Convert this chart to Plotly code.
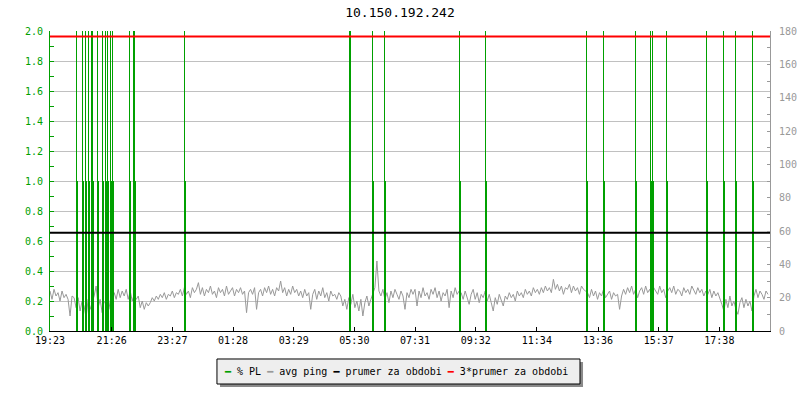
import plotly.graph_objects as go

# ---------------- data ----------------
title_text = "10.150.192.242"
start_label = "19:23"
span_minutes = 1436
tick_labels = ["19:23", "21:26", "23:27", "01:28", "03:29", "05:30",
               "07:31", "09:32", "11:34", "13:36", "15:37", "17:38"]

# packet-loss events (minutes after 19:23)
pl_minutes = [53, 64, 70, 76, 82, 85, 95, 105, 110, 115, 120, 124, 159, 166, 169,
              268, 598, 643, 667, 816, 868, 1070, 1104, 1167, 1197, 1201, 1229,
              1309, 1343, 1367, 1401]
pl_peak = [2.0, 2.0, 2.0, 2.0, 2.0, 2.0, 2.0, 2.0, 2.0, 2.0, 2.0, 2.0, 2.0, 2.0, 2.0,
           2.0, 2.0, 2.0, 2.0, 2.0, 2.0, 2.0, 2.0, 2.0, 2.0, 2.0, 2.0,
           2.0, 2.0, 2.0, 2.0]
pl_base = [1.0, 1.0, 1.0, 1.0, 1.0, 1.0, 1.0, 1.0, 1.0, 1.0, 1.0, 1.0, 1.0, 1.0, 1.0,
           1.0, 1.0, 1.0, 1.0, 1.0, 1.0, 1.0, 1.0, 1.0, 1.0, 1.0, 1.0,
           1.0, 1.0, 1.0, 1.0]

# average ping (ms), one sample every 4 minutes
ping_step_min = 4
ping_ms = [
    24, 19, 25, 21, 23, 18, 24, 20, 22, 19, 9, 21, 20,
    14, 20, 12, 18, 15, 8, 19, 13, 17, 21, 27, 14, 19, 11, 18, 16, 20, 13, 18,
    23, 19, 25, 20, 24, 21, 25, 19,
    24, 18, 22, 19, 21, 14, 18, 13, 17, 15,
    17, 20, 18, 21, 19, 22, 20, 23, 19, 22, 21, 24, 20, 23, 22,
    25, 21, 26, 22, 24, 20, 26, 23, 25, 29, 22, 26, 21, 25, 23, 27, 22, 24, 20, 26,
    23, 25, 21, 27, 22, 24, 26, 21, 25, 23, 26, 22, 24, 11, 23,
    25, 22, 26, 13, 23, 25, 21, 26, 23, 27, 22, 25, 21, 26, 24, 30, 23, 26, 21, 25,
    22, 27, 23, 25, 21,
    24, 20, 25, 21, 23, 13, 22, 25, 19, 24, 21, 26, 20, 23, 18, 24, 21, 22, 19, 23,
    21, 15, 19, 13, 20, 16, 22, 14, 18, 12, 19, 9, 17, 21, 15,
    19, 22, 26, 42, 24,
    21, 25, 19, 23, 17, 24, 20, 25, 22, 19, 24, 21, 13, 23, 20, 25,
    22, 25, 15, 24, 20, 26, 21, 23, 19, 25, 22, 26, 20, 24, 18, 23, 21, 25, 14, 24,
    20, 26, 22, 24,
    23, 19, 24, 20, 16, 22, 25, 19, 23, 17, 22, 20, 24,
    18, 22, 17, 12, 20, 16, 22, 18, 15, 21,
    19, 23, 20, 22, 18, 24, 21, 23, 20, 25, 22, 24, 21, 26, 23, 25, 22,
    26, 23, 27, 24, 26, 23, 31, 25, 28, 24, 27, 22, 26, 25, 28, 23, 27, 24, 26, 22,
    27, 25, 24,
    23, 20, 25, 21, 24, 19, 23, 21, 25, 20, 22, 24, 19, 23, 21, 22, 13,
    21, 25, 22, 26, 23, 27, 22, 25, 20, 24, 26, 22, 27, 23, 25, 21, 26, 24, 22, 27,
    23, 25, 20, 24, 26, 23, 27, 22, 25, 24, 21, 26, 23, 25, 22, 27, 24, 22, 26, 23,
    25, 21, 24,
    22, 25, 20, 24, 21, 23,
    20, 16, 12, 19, 14, 21, 15, 18, 13, 10, 17, 20, 14, 19, 15, 18, 12,
    21, 25, 20, 24, 22, 19, 24, 22,
]

prumer = 58.9        # prumer za obdobi
prumer3 = 176.7      # 3*prumer za obdobi

legend_names = ["% PL", "avg ping", "prumer za obdobi", "3*prumer za obdobi"]

# ---------------- styling ----------------
GREEN = "#00a000"
GRAY = "#999999"
BLACK = "#000000"
RED = "#ff0000"
FONT = "DejaVu Sans Mono"


def to_minutes(label):
    h, m = map(int, label.split(":"))
    sh, sm = map(int, start_label.split(":"))
    return (h * 60 + m - (sh * 60 + sm)) % 1440


tick_vals = [to_minutes(t) for t in tick_labels]
ping_x = [i * ping_step_min for i in range(len(ping_ms))]

fig = go.Figure()

# avg ping (main subplot, drawn lowest)
fig.add_trace(go.Scatter(x=ping_x, y=ping_ms, mode="lines",
                         line=dict(color=GRAY, width=1), yaxis="y",
                         showlegend=False, hoverinfo="skip"))

# % PL bars (overlay subplot, above ping)
fig.add_trace(go.Bar(x=pl_minutes, y=pl_base, width=1.98, offset=0,
                     marker=dict(color=GREEN, line=dict(width=0)),
                     yaxis="y2", showlegend=False, hoverinfo="skip"))
fig.add_trace(go.Bar(x=pl_minutes, y=pl_peak, width=0.5, offset=0,
                     marker=dict(color=GREEN, line=dict(width=0)),
                     yaxis="y2", showlegend=False, hoverinfo="skip"))

# average lines (top overlay)
fig.add_trace(go.Scatter(x=[0, span_minutes], y=[prumer, prumer], mode="lines",
                         line=dict(color=BLACK, width=2), yaxis="y3",
                         showlegend=False, hoverinfo="skip"))
fig.add_trace(go.Scatter(x=[0, span_minutes], y=[prumer3, prumer3], mode="lines",
                         line=dict(color=RED, width=2), yaxis="y3",
                         showlegend=False, hoverinfo="skip"))

# legend box built from shapes + annotation
fig.add_shape(type="rect", xref="paper", yref="paper",
              x0=0.2361, x1=0.7403, y0=-0.1867, y1=-0.1033,
              fillcolor="#8a8a8a", line=dict(width=0), layer="above")
fig.add_shape(type="rect", xref="paper", yref="paper",
              x0=0.2319, x1=0.7361, y0=-0.1767, y1=-0.0933,
              fillcolor="#eeeeee", line=dict(color=BLACK, width=1), layer="above")

colors = [GREEN, GRAY, BLACK, RED]
legend_text = " ".join(
    f'<span style="color:{c}">━</span> {n}' for c, n in zip(colors, legend_names)
)
fig.add_annotation(text=legend_text, xref="paper", yref="paper",
                   x=0.2389, y=-0.135, xanchor="left", yanchor="middle",
                   showarrow=False, font=dict(family=FONT, size=10, color=BLACK))

fig.update_layout(
    width=800, height=400,
    margin=dict(l=50, r=30, t=31, b=69, pad=0, autoexpand=False),
    paper_bgcolor="white", plot_bgcolor="white",
    barmode="overlay", bargap=0,
    showlegend=False,
    title=dict(text=title_text, x=0.5, xanchor="center", y=0.97, yanchor="middle",
               yref="container", font=dict(family=FONT, size=13, color=BLACK)),
    xaxis=dict(range=[0, span_minutes], tickvals=tick_vals, ticktext=tick_labels,
               ticks="inside", ticklen=4, tickcolor=BLACK, showline=True,
               linecolor=BLACK, linewidth=1, showgrid=False, zeroline=False,
               automargin=False,
               tickfont=dict(family=FONT, size=10, color=BLACK)),
    yaxis=dict(side="right", range=[0, 180], tickvals=list(range(0, 181, 20)),
               ticks="inside", ticklen=3, tickcolor=GRAY, showline=True,
               linecolor=GRAY, linewidth=1, showgrid=False, zeroline=False,
               ticklabelstandoff=6, automargin=False,
               minor=dict(dtick=10, ticks="inside", ticklen=3, tickcolor=GRAY,
                          showgrid=False),
               tickfont=dict(family=FONT, size=10, color=GRAY)),
    yaxis2=dict(overlaying="y", side="left", range=[0, 2], dtick=0.2, tick0=0,
                tickformat=".1f", ticks="inside", ticklen=4, tickcolor=GREEN,
                showline=True, linecolor=GREEN, linewidth=1,
                showgrid=True, gridcolor="#c0c0c0", gridwidth=1, zeroline=False,
                ticklabelstandoff=4, automargin=False,
                minor=dict(dtick=0.1, ticks="inside", ticklen=4, tickcolor=GREEN,
                           showgrid=False),
                tickfont=dict(family=FONT, size=10, color=GREEN)),
    yaxis3=dict(overlaying="y", range=[0, 180], visible=False, automargin=False),
)

fig.write_html("out.html", config={"displayModeBar": False},
               post_script="document.body.style.margin='0px';")
